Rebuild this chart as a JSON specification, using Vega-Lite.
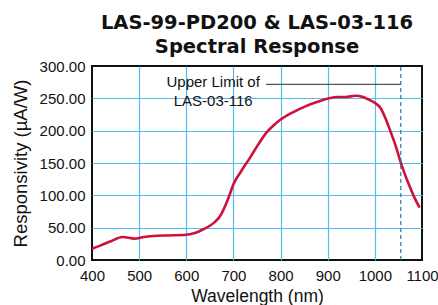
{
  "$schema": "https://vega.github.io/schema/vega-lite/v6.json",
  "width": 330,
  "height": 194,
  "autosize": "none",
  "padding": {"left": 92, "top": 66, "right": 16, "bottom": 45},
  "background": "white",
  "title": {
    "text": ["LAS-99-PD200 & LAS-03-116", "Spectral Response"],
    "font": "DejaVu Sans",
    "fontSize": 19.5,
    "fontWeight": "bold",
    "color": "#111111",
    "anchor": "middle",
    "offset": 2,
    "lineHeight": 24
  },
  "config": {
    "view": {"stroke": "#111111", "strokeWidth": 2},
    "axis": {
      "labelFont": "Liberation Sans",
      "labelFontSize": 15,
      "labelColor": "#111111",
      "titleFont": "Liberation Sans",
      "titleFontWeight": "normal",
      "titleColor": "#111111",
      "ticks": false,
      "domain": false,
      "gridColor": "#52bdee",
      "gridWidth": 1.2,
      "labelFlush": false,
      "labelOverlap": false
    }
  },
  "encoding": {
    "x": {
      "field": "wl", "type": "quantitative",
      "scale": {"domain": [400, 1100], "nice": false, "zero": false},
      "axis": {
        "values": [400, 500, 600, 700, 800, 900, 1000, 1100],
        "format": "d",
        "title": "Wavelength (nm)",
        "titleFontSize": 17.5,
        "titlePadding": 4,
        "labelPadding": 8,
        "gridOpacity": {"condition": {"test": "datum.value === 400 || datum.value === 1100", "value": 0}, "value": 1}
      }
    },
    "y": {
      "field": "r", "type": "quantitative",
      "scale": {"domain": [0, 300], "nice": false, "zero": true},
      "axis": {
        "values": [0, 50, 100, 150, 200, 250, 300],
        "format": ".2f",
        "title": "Responsivity (µA/W)",
        "titleFontSize": 18.5,
        "titlePadding": 9,
        "labelPadding": 7,
        "gridOpacity": {"condition": {"test": "datum.value === 0 || datum.value === 300", "value": 0}, "value": 1}
      }
    }
  },
  "layer": [
    {
      "data": {"values": [
        {"wl": 400, "r": 17.5}, {"wl": 420, "r": 23}, {"wl": 440, "r": 29}, {"wl": 465, "r": 35.5},
        {"wl": 490, "r": 33}, {"wl": 510, "r": 35.5}, {"wl": 530, "r": 37}, {"wl": 560, "r": 38},
        {"wl": 600, "r": 39}, {"wl": 620, "r": 42}, {"wl": 636, "r": 47.5}, {"wl": 650, "r": 53},
        {"wl": 661, "r": 59}, {"wl": 670, "r": 66}, {"wl": 679, "r": 78}, {"wl": 690, "r": 97},
        {"wl": 700, "r": 117}, {"wl": 717, "r": 138}, {"wl": 735, "r": 158}, {"wl": 752, "r": 178},
        {"wl": 770, "r": 197}, {"wl": 785, "r": 208}, {"wl": 798, "r": 216}, {"wl": 825, "r": 228},
        {"wl": 854, "r": 238}, {"wl": 880, "r": 245}, {"wl": 903, "r": 250}, {"wl": 920, "r": 252},
        {"wl": 938, "r": 252}, {"wl": 959, "r": 254}, {"wl": 975, "r": 252}, {"wl": 987, "r": 248},
        {"wl": 1000, "r": 243}, {"wl": 1012, "r": 235}, {"wl": 1022, "r": 220}, {"wl": 1033, "r": 199},
        {"wl": 1044, "r": 177}, {"wl": 1054, "r": 153}, {"wl": 1063, "r": 134}, {"wl": 1072, "r": 117},
        {"wl": 1083, "r": 98}, {"wl": 1095, "r": 81}
      ]},
      "mark": {"type": "line", "color": "#d0103c", "strokeWidth": 2.6, "interpolate": "monotone", "clip": true}
    },
    {
      "data": {"values": [{"wl": 1055, "r": 0, "r2": 300}]},
      "mark": {"type": "rule", "color": "#1f7ea6", "strokeWidth": 1.2, "strokeDash": [4, 3]},
      "encoding": {"y2": {"field": "r2"}}
    },
    {
      "data": {"values": [{"wl": 769, "wl2": 1055, "r": 271.5}]},
      "mark": {"type": "rule", "color": "#555555", "strokeWidth": 1.2},
      "encoding": {"x2": {"field": "wl2"}}
    },
    {
      "data": {"values": [
        {"label": "Upper Limit of", "wl": 657, "r": 267.5},
        {"label": "LAS-03-116", "wl": 657, "r": 238}
      ]},
      "mark": {"type": "text", "font": "Liberation Sans", "fontSize": 15, "color": "#111111", "align": "center", "baseline": "alphabetic"},
      "encoding": {"text": {"field": "label"}}
    }
  ]
}
